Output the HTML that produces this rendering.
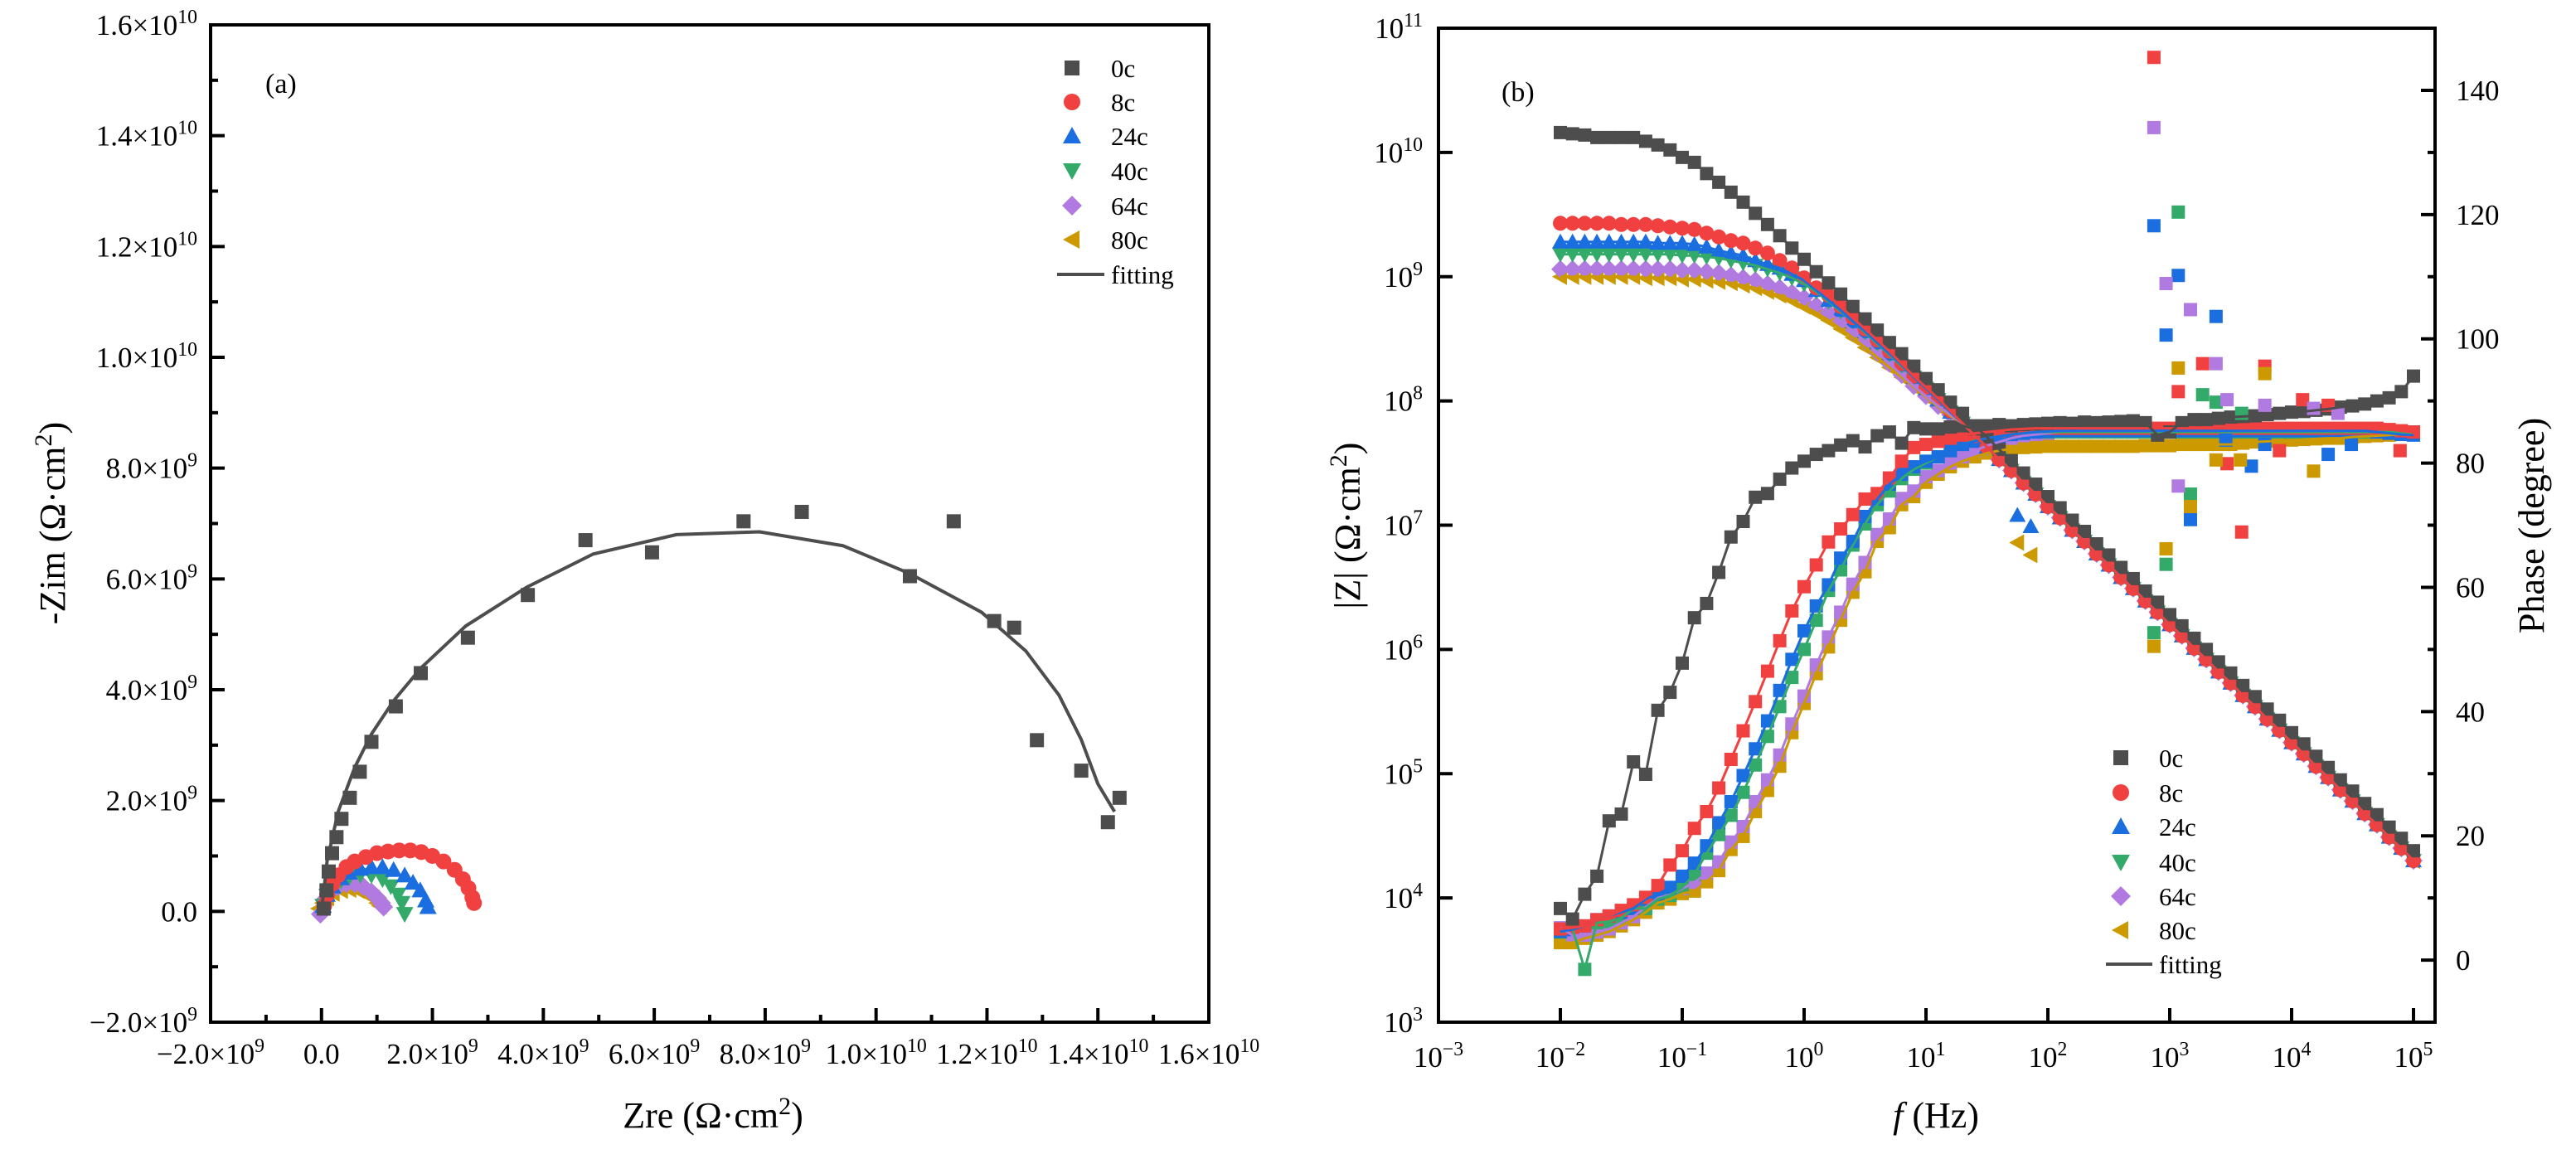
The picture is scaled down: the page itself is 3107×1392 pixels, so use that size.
<!DOCTYPE html>
<html><head><meta charset="utf-8"><style>
html,body{margin:0;padding:0;background:#fff;}
svg{display:block;font-family:"Liberation Serif",serif;}
</style></head><body>
<svg id="fig" width="3107" height="1392" viewBox="0 0 3107 1392" xmlns="http://www.w3.org/2000/svg">
<g id="pa"></g>
<g id="pb"></g>
</svg>
<script>
// ---------- data ----------
const seriesNames = ["0c","8c","24c","40c","64c","80c"];
const colors = ["#4d4d4d","#f04040","#1a6ee0","#33aa6a","#b07ae0","#cc9a00"];
const shapes = ["square","circle","up","down","diamond","left"];
// Nyquist (units of 1e9 ohm cm2)
const nyZre0 = [0.04,0.09,0.13,0.19,0.27,0.36,0.51,0.69,0.90,1.34,1.79,2.64,3.72,4.76,5.96,7.61,8.66,10.61,11.40,12.13,12.49,12.90,13.70,14.18,14.39];
const nyZim0 = [0.05,0.38,0.72,1.05,1.34,1.67,2.05,2.52,3.06,3.70,4.30,4.94,5.71,6.70,6.48,7.04,7.21,6.05,7.04,5.24,5.12,3.09,2.54,1.61,2.05];
const nyZre1 = [0.05,0.1,0.2,0.3,0.45,0.6,0.8,1.0,1.2,1.4,1.6,1.8,2.0,2.2,2.4,2.55,2.65,2.72,2.75];
const nyZim1 = [0.1,0.3,0.5,0.65,0.8,0.9,0.98,1.05,1.08,1.1,1.1,1.07,1.0,0.9,0.75,0.58,0.42,0.25,0.15];
const nyZre2 = [0.03,0.1,0.2,0.35,0.5,0.7,0.9,1.1,1.3,1.5,1.65,1.78,1.88,1.92];
const nyZim2 = [0.1,0.3,0.45,0.6,0.7,0.77,0.8,0.8,0.75,0.65,0.52,0.38,0.2,0.08];
const nyZre3 = [0.03,0.1,0.2,0.35,0.5,0.7,0.9,1.1,1.25,1.38,1.45,1.5];
const nyZim3 = [0.1,0.28,0.42,0.55,0.62,0.66,0.65,0.58,0.45,0.3,0.15,-0.05];
const nyZre4 = [-0.02,0.05,0.15,0.3,0.45,0.6,0.75,0.9,1.0,1.08,1.12];
const nyZim4 = [-0.05,0.2,0.35,0.45,0.5,0.5,0.45,0.35,0.25,0.15,0.08];
const nyZre5 = [-0.05,0.02,0.1,0.2,0.35,0.5,0.65,0.8,0.92,1.0,1.05];
const nyZim5 = [0.05,0.15,0.25,0.33,0.38,0.4,0.38,0.32,0.24,0.15,0.1];
const fitZre0 = [0,0.1,0.3,0.6,0.9,1.3,1.8,2.6,3.7,4.9,6.4,7.9,9.4,10.6,11.9,12.7,13.3,13.7,14.0,14.3];
const fitZim0 = [0,0.9,1.8,2.6,3.2,3.8,4.4,5.15,5.85,6.45,6.8,6.85,6.6,6.1,5.4,4.7,3.9,3.1,2.3,1.8];
// Bode: log10 frequency (10 points per decade)
const logF = [-2,-1.9,-1.8,-1.7,-1.6,-1.5,-1.4,-1.3,-1.2,-1.1,-1,-0.9,-0.8,-0.7,-0.6,-0.5,-0.4,-0.3,-0.2,-0.1,0,0.1,0.2,0.3,0.4,0.5,0.6,0.7,0.8,0.9,1,1.1,1.2,1.3,1.4,1.5,1.6,1.7,1.8,1.9,2,2.1,2.2,2.3,2.4,2.5,2.6,2.7,2.8,2.9,3,3.1,3.2,3.3,3.4,3.5,3.6,3.7,3.8,3.9,4,4.1,4.2,4.3,4.4,4.5,4.6,4.7,4.8,4.9,5];
// log10|Z|: low-frequency part (log f -2..1.3) then high-frequency tail (1.4..5)
const zLow0 = [10.16,10.15,10.14,10.12,10.12,10.12,10.12,10.09,10.06,10.02,9.96,9.92,9.83,9.76,9.68,9.60,9.51,9.42,9.33,9.23,9.14,9.04,8.95,8.86,8.76,8.66,8.57,8.47,8.38,8.28,8.18,8.09,7.99,7.90];
const zTail0 = [7.80,7.71,7.61,7.52,7.42,7.33,7.23,7.14,7.04,6.95,6.85,6.76,6.66,6.57,6.47,6.38,6.28,6.19,6.09,6.00,5.90,5.81,5.71,5.62,5.52,5.43,5.33,5.24,5.14,5.05,4.95,4.86,4.76,4.67,4.57,4.48,4.38];
const zLow1 = [9.43,9.43,9.43,9.43,9.43,9.42,9.42,9.42,9.41,9.40,9.39,9.38,9.35,9.32,9.29,9.27,9.23,9.19,9.13,9.07,8.99,8.91,8.85,8.76,8.67,8.58,8.49,8.40,8.30,8.20,8.11,8.02,7.92,7.82];
const zLow2 = [9.28,9.28,9.28,9.28,9.28,9.28,9.28,9.28,9.27,9.27,9.27,9.26,9.24,9.21,9.19,9.17,9.13,9.10,9.07,9.02,8.97,8.89,8.81,8.73,8.64,8.56,8.47,8.38,8.29,8.19,8.10,8.01,7.91,7.82];
const zLow3 = [9.18,9.18,9.18,9.18,9.18,9.18,9.18,9.18,9.18,9.18,9.17,9.17,9.16,9.15,9.13,9.11,9.09,9.06,9.03,8.99,8.94,8.88,8.80,8.72,8.64,8.55,8.46,8.37,8.28,8.19,8.10,8.01,7.91,7.82];
const zLow4 = [9.06,9.06,9.06,9.06,9.06,9.06,9.06,9.06,9.06,9.06,9.05,9.05,9.04,9.03,9.01,8.99,8.97,8.94,8.91,8.87,8.83,8.77,8.71,8.64,8.56,8.48,8.39,8.30,8.21,8.12,8.04,7.96,7.89,7.82];
const zLow5 = [9.0,9.0,9.0,9.0,9.0,9.0,9.0,8.99,8.99,8.99,8.98,8.98,8.97,8.96,8.95,8.93,8.91,8.88,8.85,8.81,8.76,8.71,8.65,8.58,8.51,8.43,8.35,8.27,8.19,8.11,8.03,7.95,7.88,7.82];
const zTail = [7.72,7.63,7.53,7.44,7.34,7.25,7.15,7.06,6.96,6.87,6.77,6.68,6.58,6.49,6.39,6.30,6.20,6.11,6.01,5.92,5.82,5.73,5.63,5.54,5.44,5.35,5.25,5.16,5.06,4.97,4.87,4.78,4.68,4.59,4.49,4.40,4.30];
// phase (deg): low part (log f -2..1.0) then high part (1.1..5)
const pLow0 = [8.3,6.6,10.6,13.5,22.4,23.5,31.9,29.9,40.2,43.1,47.8,55.1,57.4,62.4,68.1,70.6,74.5,75.1,77.4,79.2,80.3,81.4,82,82.9,83.6,82.6,84.4,85,83.2,85.7,85.5];
const pHigh0 = [85.5,85.8,86,85.5,86,86.2,86,86.2,86.3,86.4,86.5,86.4,86.6,86.5,86.6,86.7,86.8,86.5,84.5,85,86.5,87,87,87.2,87.4,87.5,87.6,87.8,88,88.2,88.3,88.5,88.7,89,89.2,89.5,90,90.5,91.5,94];
const pLow1 = [5,5.2,5.5,6.5,7.1,8,8.9,10.1,12,15.3,17.6,21.2,23.9,27.7,32.3,36.9,41.6,46.5,51.4,56.2,60.1,63.6,67.3,69.4,71.7,74.2,75.1,77.6,80.3,82.5,83];
const pHigh1 = [83.5,84,84.5,84.8,85,85.2,85.4,85.5,85.6,85.6,85.6,85.6,85.6,85.6,85.6,85.6,85.6,85.6,85.6,85.6,85.6,85.6,85.6,85.6,85.6,85.6,85.6,85.6,85.6,85.6,85.6,85.6,85.6,85.6,85.6,85.6,85.6,85.4,85.2,85];
const pLow2 = [4.6,4.9,5.5,6.5,7.1,7.7,8.3,9.8,10.6,11.7,13.5,15.6,18.4,22.1,25.5,29.7,34,38.5,43.4,48.4,53,57,60.4,64.7,67.4,71.4,74.2,76.6,78.2,79.4,80.3];
const pHigh2 = [81,82,83,83.5,84,84.3,84.6,84.8,85,85.1,85.2,85.2,85.2,85.2,85.2,85.2,85.2,85.2,85.2,85.2,85.2,85.2,85.2,85.2,85.2,85.2,85.2,85.2,85.2,85.2,85.2,85.2,85.2,85.2,85.2,85.2,85,84.8,84.6,84.5];
const pLow3 = [4.5,5,-1.5,6,6.2,6.8,8.3,8.3,9.8,10.4,11.7,13.8,17.2,20.2,23.3,27,31.4,36,40.8,45.5,50,54.7,59.5,62.8,66.8,70.2,73.3,75.5,77.5,79,80];
const pHigh3 = [81,82,83,83.6,84,84.3,84.6,84.8,85,85,85,85,85,85,85,85,85,85,85,85,85,85,85,85,85,85,85,85,85,85,85,85,85,85,85,85,85,85,85,85];
const pLow4 = [5.2,4,4,4.5,5,6,7,8.5,10,10.5,11.5,12.5,14,15.8,19,21.5,25.5,29,33,38,42.5,47.5,52,56,60.5,64,68.5,71,74.3,75.5,77.8];
const pHigh4 = [78.8,80,81,82,82.8,83.4,84,84.4,84.6,84.8,85,85,85,85,85,85,85,85,85,85,85,85,85,85,85,85,85,85,85,85,85,85,85,85,85,85,85,85,85,85];
const pLow5 = [2.8,2.8,3.5,4,4.6,5.5,6.5,7.7,9.2,9.8,10.7,11.1,12.6,14.4,17.8,19.9,23.9,27.3,31.2,36.6,41.3,46.1,50.4,54.7,59.2,62.5,67.4,69.6,73.3,74.6,76.9];
const pHigh5 = [78.2,79.4,80.3,81,81.6,82,82.3,82.5,82.6,82.7,82.7,82.7,82.7,82.7,82.7,82.7,82.7,82.8,82.8,82.8,83,83,83,83,83,83.2,83.4,83.5,83.6,83.7,83.8,83.9,84,84,84.2,84.3,84.4,84.5,84.7,85];
// scattered phase points (series index, log f, phase)
const outS = [1,1,1,1,1,1,1,1,1,1, 2,2,2,2,2,2,2,2,2,2, 3,3,3,3,3,3,3, 4,4,4,4,4,4,4,4,4, 5,5,5,5,5,5,5,5];
const outF = [2.87,3.07,3.27,3.59,3.47,3.78,4.09,4.30,3.9,4.89, 2.87,3.07,2.97,3.38,3.17,3.67,3.46,3.78,4.3,4.49, 3.07,3.27,3.17,2.97,3.38,2.87,3.59, 2.87,2.97,3.17,3.07,3.38,3.47,3.78,4.18,4.38, 3.07,2.97,2.87,3.17,3.78,4.18,3.38,3.58];
const outP = [145.3,91.5,96,68.9,79.9,95.6,90.2,89.3,82,82, 118.2,110.2,100.6,103.6,70.9,79.5,83.7,83,81.4,83, 120.4,91,75,63.7,89.8,52.7,88, 134,108.9,104.7,76.3,96,90.2,89.3,88.8,88, 95.3,66.2,50.5,73,94.4,78.7,80.5,80.5];
// scattered |Z| points near 60 Hz
const outZS = [2,2,5,5];
const outZF = [1.75,1.86,1.75,1.86];
const outZV = [7.08,6.99,6.86,6.76];

const NS="http://www.w3.org/2000/svg";
function mk(parent,tag,attrs,txt){const e=document.createElementNS(NS,tag);for(const k in attrs)e.setAttribute(k,attrs[k]);if(txt!==undefined)e.textContent=txt;parent.appendChild(e);return e;}
function marker(g,shape,cx,cy,col,s){
  const h=s/2;let e;
  if(shape==="square")e=mk(g,"rect",{x:cx-h,y:cy-h,width:s,height:s,fill:col});
  else if(shape==="circle")e=mk(g,"circle",{cx:cx,cy:cy,r:h+1,fill:col});
  else{let p;
    if(shape==="up")p=[[cx,cy-h-2],[cx+h+2,cy+h],[cx-h-2,cy+h]];
    else if(shape==="down")p=[[cx,cy+h+2],[cx+h+2,cy-h],[cx-h-2,cy-h]];
    else if(shape==="diamond")p=[[cx,cy-h-3],[cx+h+3,cy],[cx,cy+h+3],[cx-h-3,cy]];
    else p=[[cx-h-2,cy],[cx+h,cy-h-2],[cx+h,cy+h+2]];
    e=mk(g,"polygon",{points:p.map(q=>q.join(",")).join(" "),fill:col});}
  return e;}
function sci(g,x,y,mant,exp,anchor,size){
  const t=mk(g,"text",{x:x,y:y,"text-anchor":anchor,"font-size":size,fill:"#000"});
  if(mant!=="")t.appendChild(document.createTextNode(mant));
  if(exp!==""){const s=document.createElementNS(NS,"tspan");s.setAttribute("dy",-size*0.4);s.setAttribute("font-size",size*0.68);s.textContent=exp;t.appendChild(s);}
  return t;}
function sup2(t){const s=document.createElementNS(NS,"tspan");s.setAttribute("dy",-16);s.setAttribute("font-size",30);s.textContent="2";t.appendChild(s);const s2=document.createElementNS(NS,"tspan");s2.setAttribute("dy",16);s2.textContent=")";t.appendChild(s2);}

// ---------- panel A ----------
const pa=document.getElementById("pa");
const A={l:254,r:1458,t:30,b:1233,x0:-2,x1:16,y0:-2,y1:16};
const ax=v=>A.l+(v-A.x0)/(A.x1-A.x0)*(A.r-A.l);
const ay=v=>A.b-(v-A.y0)/(A.y1-A.y0)*(A.b-A.t);
const aTicksLabel=["−2.0×10","0.0","2.0×10","4.0×10","6.0×10","8.0×10","1.0×10","1.2×10","1.4×10","1.6×10"];
const aTicksExp=["9","","9","9","9","9","10","10","10","10"];
const aTickVals=[-2,0,2,4,6,8,10,12,14,16];
const gaAx=mk(pa,"g",{});
for(let v=-2;v<=16;v+=1){const maj=(v%2===0);
  mk(gaAx,"line",{x1:ax(v),x2:ax(v),y1:A.b,y2:A.b-(maj?17:9),stroke:"#000","stroke-width":4});
  mk(gaAx,"line",{x1:A.l,x2:A.l+(maj?17:9),y1:ay(v),y2:ay(v),stroke:"#000","stroke-width":4});}
aTickVals.forEach((v,i)=>{
  const t1=sci(gaAx,ax(v),1283,aTicksLabel[i],aTicksExp[i],"middle",35);
  const t2=sci(gaAx,238,ay(v)+12,aTicksLabel[i],aTicksExp[i],"end",35);});
const fr=mk(gaAx,"rect",{x:A.l,y:A.t,width:A.r-A.l,height:A.b-A.t,fill:"none",stroke:"#000","stroke-width":4});

const nyX=[nyZre0,nyZre1,nyZre2,nyZre3,nyZre4,nyZre5],nyY=[nyZim0,nyZim1,nyZim2,nyZim3,nyZim4,nyZim5];
for(let s=5;s>=0;s--){const g=mk(pa,"g",{});
  nyX[s].forEach((v,i)=>marker(g,shapes[s],ax(v),ay(nyY[s][i]),colors[s],17));}
const fitA=mk(pa,"polyline",{points:fitZre0.map((v,i)=>ax(v)+","+ay(fitZim0[i])).join(" "),fill:"none",stroke:"#4d4d4d","stroke-width":4});

const la=mk(pa,"text",{x:320,y:112,"font-size":34},"(a)");
const xta=mk(pa,"text",{x:860,y:1360,"text-anchor":"middle","font-size":44},"Zre (Ω·cm");sup2(xta);

const yta=mk(pa,"text",{x:0,y:0,"text-anchor":"middle","font-size":44,transform:"translate(78,631) rotate(-90)"},"-Zim (Ω·cm");sup2(yta);

function legend(parent,mx,tx,rows){
  const lg=mk(parent,"g",{});
  for(let s=0;s<6;s++){const e=mk(lg,"g",{});
    marker(e,shapes[s],mx,rows[s],colors[s],18);mk(e,"text",{x:tx,y:rows[s]+11,"font-size":31},seriesNames[s]);}
  const e=mk(lg,"g",{});
  mk(e,"line",{x1:mx-18,x2:tx-8,y1:rows[6],y2:rows[6],stroke:"#4d4d4d","stroke-width":4});
  mk(e,"text",{x:tx,y:rows[6]+11,"font-size":31},"fitting");}
legend(pa,1293,1340,[82,123,164,206,248,289,331]);

// ---------- panel B ----------
const pb=document.getElementById("pb");
const B={l:1735,r:2937,t:34,b:1233};
const bx=lf=>B.l+(lf+3)*147;
const by=lz=>B.b-(lz-3)/8*(B.b-B.t);
const bp=p=>B.b-(p+10)/160*(B.b-B.t);
const gb=mk(pb,"g",{});
const bxTicks=[-3,-2,-1,0,1,2,3,4,5];
bxTicks.forEach(e=>{mk(gb,"line",{x1:bx(e),x2:bx(e),y1:B.b,y2:B.b-17,stroke:"#000","stroke-width":4});
  const t=sci(gb,bx(e),1287,"10",String(e).replace("-","−"),"middle",35);});
const byTicks=[3,4,5,6,7,8,9,10,11];
byTicks.forEach(e=>{mk(gb,"line",{x1:B.l,x2:B.l+17,y1:by(e),y2:by(e),stroke:"#000","stroke-width":4});
  const t=sci(gb,1716,by(e)+12,"10",String(e),"end",35);});
const pTicks=[0,20,40,60,80,100,120,140];
for(let p=-10;p<=150;p+=10){const maj=(p%20===0);mk(gb,"line",{x1:B.r,x2:B.r-(maj?17:9),y1:bp(p),y2:bp(p),stroke:"#000","stroke-width":4});}
pTicks.forEach(p=>{const t=mk(gb,"text",{x:2962,y:bp(p)+12,"font-size":35},String(p));});
const fb=mk(gb,"rect",{x:B.l,y:B.t,width:B.r-B.l,height:B.b-B.t,fill:"none",stroke:"#000","stroke-width":4});

const logZ=[zLow0.concat(zTail0),zLow1.concat(zTail),zLow2.concat(zTail),zLow3.concat(zTail),zLow4.concat(zTail),zLow5.concat(zTail)];
const phs=[pLow0.concat(pHigh0),pLow1.concat(pHigh1),pLow2.concat(pHigh2),pLow3.concat(pHigh3),pLow4.concat(pHigh4),pLow5.concat(pHigh5)];
for(let s=5;s>=0;s--){
  const g=mk(pb,"g",{});
  logF.forEach((f,i)=>{if(phs[s][i]!==undefined)marker(g,"square",bx(f),bp(phs[s][i]),colors[s],16);});
  const g2=mk(pb,"g",{});
  logF.forEach((f,i)=>{if(logZ[s][i]!==undefined)marker(g2,shapes[s],bx(f),by(logZ[s][i]),colors[s],16);});}
outS.forEach((s,i)=>{const m=marker(pb,"square",bx(outF[i]),bp(outP[i]),colors[s],16);});
outZS.forEach((s,i)=>{const m=marker(pb,shapes[s],bx(outZF[i]),by(outZV[i]),colors[s],16);});
for(let s=5;s>=0;s--){
  const l1=mk(pb,"polyline",{points:logF.filter((f,i)=>logZ[s][i]!==undefined).map((f,i)=>bx(f)+","+by(logZ[s][i])).join(" "),fill:"none",stroke:s===0?"#4d4d4d":colors[s],"stroke-width":3});
  
  const l2=mk(pb,"polyline",{points:logF.filter((f,i)=>phs[s][i]!==undefined).map((f,i)=>bx(f)+","+bp(phs[s][i])).join(" "),fill:"none",stroke:s===0?"#4d4d4d":colors[s],"stroke-width":3});
  }
const lb=mk(pb,"text",{x:1811,y:122,"font-size":34},"(b)");
const xtb=mk(pb,"text",{x:2335,y:1360,"text-anchor":"middle","font-size":44});
{const s=document.createElementNS(NS,"tspan");s.setAttribute("font-style","italic");s.textContent="f";xtb.appendChild(s);xtb.appendChild(document.createTextNode(" (Hz)"));}

const ytb=mk(pb,"text",{x:0,y:0,"text-anchor":"middle","font-size":44,transform:"translate(1640,634) rotate(-90)"},"|Z| (Ω·cm");sup2(ytb);

const ytp=mk(pb,"text",{x:0,y:0,"text-anchor":"middle","font-size":44,transform:"translate(3068,634) rotate(-90)"},"Phase (degree)");

legend(pb,2558,2604,[914,956,997,1040,1081,1122,1163]);
</script>
</body></html>
